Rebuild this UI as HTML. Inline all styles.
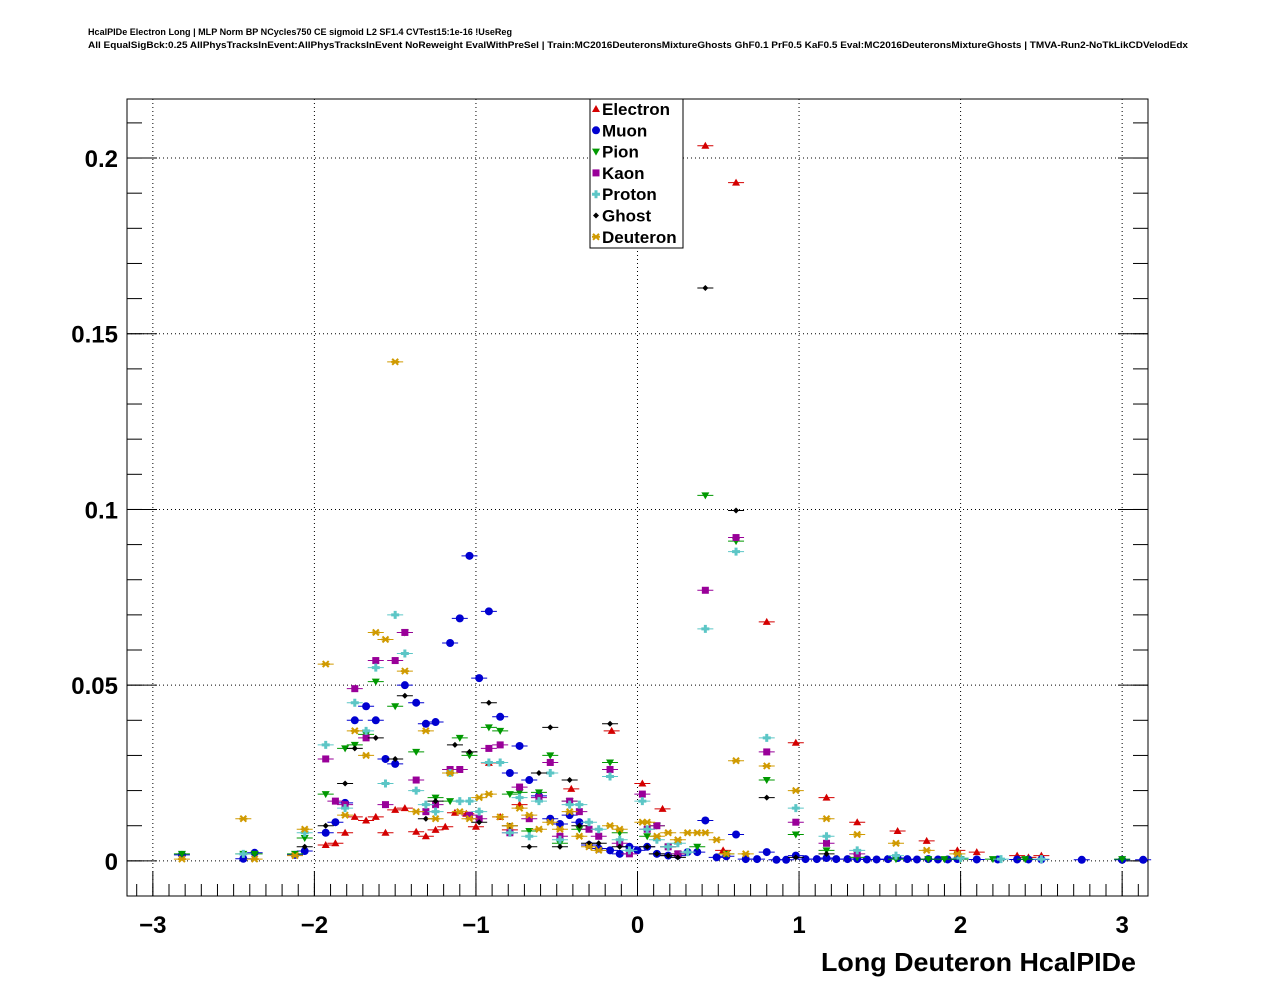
<!DOCTYPE html>
<html><head><meta charset="utf-8"><style>
body{margin:0;background:#fff;}
svg{display:block;font-family:"Liberation Sans",sans-serif;}
</style></head><body>
<svg id="chart" width="1276" height="996">
<text x="88" y="35" font-size="9" font-weight="bold" textLength="424" lengthAdjust="spacingAndGlyphs">HcalPIDe Electron Long | MLP Norm BP NCycles750 CE sigmoid L2 SF1.4 CVTest15:1e-16 !UseReg</text>
<text x="88" y="48" font-size="9" font-weight="bold" textLength="1100" lengthAdjust="spacingAndGlyphs">All EqualSigBck:0.25 AllPhysTracksInEvent:AllPhysTracksInEvent NoReweight EvalWithPreSel | Train:MC2016DeuteronsMixtureGhosts GhF0.1 PrF0.5 KaF0.5 Eval:MC2016DeuteronsMixtureGhosts | TMVA-Run2-NoTkLikCDVelodEdx</text>
<rect x="127" y="99" width="1021" height="797" fill="none" stroke="#000" stroke-width="1"/>
<g id="grid"></g><g id="axes"></g><g id="marks"></g>
<text x="1136" y="971" font-size="26" font-weight="bold" text-anchor="end" textLength="315" lengthAdjust="spacingAndGlyphs">Long Deuteron HcalPIDe</text>
<g id="legend">
<rect x="590" y="99" width="93" height="149" fill="#fff" stroke="#000" stroke-width="1"/>
</g>
</svg>
<script>
const seriesNames=["Electron","Muon","Pion","Kaon","Proton","Ghost","Deuteron"];
const seriesColors=["#d40000","#0000d0","#009900","#990099","#5cc6c6","#000000","#d09a00"];
const xTicks=[-3,-2,-1,0,1,2,3];
const xTickLabels=["\u22123","\u22122","\u22121","0","1","2","3"];
const yTicks=[0,0.05,0.1,0.15,0.2];
const yTickLabels=["0","0.05","0.1","0.15","0.2"];
const electronX=[-1.93,-1.87,-1.81,-1.75,-1.68,-1.62,-1.56,-1.50,-1.44,-1.37,-1.31,-1.25,-1.19,-1.13,-1.06,-1.00,-0.92,-0.85,-0.79,-0.73,-0.41,-0.16,0.03,0.155,0.42,0.53,0.61,0.80,0.98,1.17,1.36,1.61,1.79,1.98,2.1,2.35,2.42,2.5];
const electronY=[0.0045,0.005,0.008,0.0125,0.0115,0.0125,0.008,0.0145,0.015,0.0083,0.007,0.0088,0.0097,0.0137,0.0134,0.0097,0.0279,0.0125,0.0088,0.016,0.0205,0.037,0.022,0.0148,0.2035,0.003,0.193,0.068,0.0336,0.018,0.011,0.0085,0.0057,0.003,0.0025,0.0015,0.001,0.0015];
const muonX=[-2.82,-2.44,-2.37,-2.12,-2.06,-1.93,-1.87,-1.81,-1.75,-1.68,-1.62,-1.56,-1.50,-1.44,-1.37,-1.31,-1.25,-1.16,-1.10,-1.04,-0.98,-0.92,-0.85,-0.79,-0.73,-0.67,-0.61,-0.54,-0.48,-0.42,-0.36,-0.30,-0.24,-0.17,-0.11,-0.05,0.0,0.06,0.12,0.19,0.25,0.31,0.37,0.42,0.49,0.55,0.61,0.67,0.74,0.80,0.86,0.92,0.98,1.04,1.11,1.17,1.23,1.3,1.36,1.42,1.48,1.55,1.61,1.67,1.73,1.8,1.86,1.92,1.98,2.1,2.23,2.35,2.42,2.5,2.75,3.0,3.13];
const muonY=[0.0017,0.0006,0.0023,0.0017,0.0028,0.008,0.011,0.0165,0.040,0.044,0.040,0.029,0.0276,0.050,0.045,0.039,0.0395,0.062,0.069,0.0868,0.052,0.071,0.041,0.025,0.0327,0.023,0.0185,0.012,0.0105,0.013,0.011,0.0045,0.0035,0.003,0.002,0.004,0.003,0.004,0.002,0.0015,0.0015,0.0025,0.0025,0.0115,0.001,0.0013,0.0075,0.0005,0.0005,0.0025,0.0003,0.0003,0.0015,0.0005,0.0005,0.0008,0.0005,0.0005,0.0005,0.0004,0.0004,0.0005,0.0008,0.0005,0.0004,0.0005,0.0004,0.0004,0.0005,0.0004,0.0004,0.0004,0.0004,0.0004,0.0003,0.0003,0.0003];
const pionX=[-2.82,-2.44,-2.37,-2.12,-2.06,-1.93,-1.81,-1.75,-1.68,-1.62,-1.50,-1.44,-1.37,-1.25,-1.16,-1.10,-1.04,-0.92,-0.85,-0.79,-0.73,-0.67,-0.61,-0.54,-0.48,-0.42,-0.36,-0.17,-0.11,0.06,0.12,0.19,0.25,0.37,0.42,0.55,0.61,0.80,0.98,1.17,1.36,1.6,1.8,1.9,2.0,2.2,2.4,3.0];
const pionY=[0.002,0.002,0.002,0.002,0.0065,0.019,0.032,0.033,0.036,0.051,0.044,0.065,0.031,0.018,0.017,0.035,0.030,0.038,0.037,0.019,0.0195,0.0085,0.0195,0.030,0.005,0.017,0.009,0.028,0.008,0.007,0.010,0.004,0.002,0.004,0.104,0.002,0.091,0.023,0.0075,0.003,0.001,0.0005,0.0005,0.0005,0.0005,0.0005,0.0005,0.0005];
const kaonX=[-1.93,-1.87,-1.81,-1.75,-1.68,-1.62,-1.56,-1.50,-1.44,-1.37,-1.31,-1.25,-1.16,-1.10,-1.04,-0.98,-0.92,-0.85,-0.79,-0.73,-0.67,-0.61,-0.54,-0.48,-0.42,-0.36,-0.30,-0.24,-0.17,-0.11,-0.05,0.03,0.06,0.12,0.19,0.25,0.42,0.61,0.80,0.98,1.17,1.36];
const kaonY=[0.029,0.017,0.016,0.049,0.035,0.057,0.016,0.057,0.065,0.023,0.014,0.016,0.026,0.026,0.013,0.012,0.032,0.033,0.008,0.021,0.012,0.018,0.028,0.007,0.017,0.014,0.009,0.007,0.026,0.005,0.002,0.019,0.009,0.010,0.004,0.002,0.077,0.092,0.031,0.011,0.005,0.002];
const protonX=[-2.44,-2.06,-1.93,-1.81,-1.75,-1.68,-1.62,-1.56,-1.50,-1.44,-1.37,-1.31,-1.25,-1.16,-1.10,-1.04,-0.98,-0.92,-0.85,-0.79,-0.73,-0.67,-0.61,-0.54,-0.48,-0.42,-0.36,-0.30,-0.24,-0.17,-0.11,-0.05,0.03,0.06,0.12,0.19,0.25,0.31,0.42,0.61,0.80,0.98,1.17,1.36,1.6,2.0,2.25,2.5];
const protonY=[0.002,0.008,0.033,0.015,0.045,0.037,0.055,0.022,0.070,0.059,0.020,0.016,0.014,0.025,0.017,0.017,0.014,0.028,0.028,0.008,0.018,0.007,0.017,0.025,0.006,0.016,0.016,0.011,0.009,0.024,0.006,0.003,0.017,0.009,0.006,0.004,0.005,0.0025,0.066,0.088,0.035,0.015,0.007,0.003,0.0015,0.0008,0.0005,0.0005];
const ghostX=[-2.06,-1.93,-1.81,-1.75,-1.62,-1.50,-1.44,-1.31,-1.25,-1.13,-1.04,-0.98,-0.92,-0.79,-0.67,-0.61,-0.54,-0.48,-0.42,-0.36,-0.30,-0.24,-0.17,-0.11,0.06,0.12,0.19,0.25,0.42,0.61,0.80,0.98,1.17];
const ghostY=[0.004,0.010,0.022,0.032,0.035,0.029,0.047,0.012,0.017,0.033,0.031,0.011,0.045,0.010,0.004,0.025,0.038,0.004,0.023,0.010,0.005,0.005,0.039,0.004,0.004,0.002,0.0015,0.001,0.163,0.0997,0.018,0.001,0.002];
const deuteronX=[-2.82,-2.44,-2.37,-2.12,-2.06,-1.93,-1.81,-1.75,-1.68,-1.62,-1.56,-1.50,-1.44,-1.37,-1.31,-1.25,-1.16,-1.10,-1.04,-0.98,-0.92,-0.85,-0.79,-0.73,-0.67,-0.61,-0.54,-0.48,-0.42,-0.36,-0.30,-0.24,-0.17,-0.11,0.03,0.06,0.12,0.19,0.25,0.31,0.37,0.42,0.49,0.55,0.61,0.67,0.80,0.98,1.17,1.36,1.6,1.79,1.98];
const deuteronY=[0.0005,0.012,0.0005,0.0015,0.009,0.056,0.013,0.037,0.030,0.065,0.063,0.142,0.054,0.014,0.037,0.012,0.025,0.014,0.012,0.018,0.019,0.0125,0.010,0.015,0.013,0.009,0.011,0.009,0.014,0.007,0.004,0.003,0.010,0.009,0.011,0.011,0.007,0.008,0.006,0.008,0.008,0.008,0.006,0.002,0.0285,0.002,0.027,0.020,0.012,0.0075,0.005,0.003,0.002];
const allX=[electronX,muonX,pionX,kaonX,protonX,ghostX,deuteronX];
const allY=[electronY,muonY,pionY,kaonY,protonY,ghostY,deuteronY];

const NS="http://www.w3.org/2000/svg";
const L=127,R=1148,T=99,B=896,xmin=-3.16,xmax=3.16,ymin=-0.01,ymax=0.2168;
function sx(v){return L+(v-xmin)/(xmax-xmin)*(R-L);}
function sy(v){return B-(v-ymin)/(ymax-ymin)*(B-T);}
function mk(tag,attrs,parent){const e=document.createElementNS(NS,tag);for(const k in attrs)e.setAttribute(k,attrs[k]);parent.appendChild(e);return e;}
const grid=document.getElementById('grid'),axes=document.getElementById('axes'),marks=document.getElementById('marks'),legend=document.getElementById('legend');
xTicks.forEach((t,i)=>{const x=sx(t);
 const g=mk('line',{x1:x,x2:x,y1:T,y2:B,stroke:'#000','stroke-dasharray':'1,3','stroke-width':1},grid);
 
 
 mk('line',{x1:x,x2:x,y1:B,y2:B-25,stroke:'#000'},axes);
 const tx=mk('text',{x:x,y:933,'font-size':24,'font-weight':'bold','text-anchor':'middle'},axes);
 tx.textContent=xTickLabels[i];
 
 
});
for(let v=-3.1;v<=3.15;v+=0.1){const x=sx(v);mk('line',{x1:x,x2:x,y1:B,y2:B-12,stroke:'#000'},axes);}
yTicks.forEach((t,i)=>{const y=sy(t);
 const g=mk('line',{x1:L,x2:R,y1:y,y2:y,stroke:'#000','stroke-dasharray':'1,3','stroke-width':1},grid);
 
 
 mk('line',{x1:L,x2:L+30,y1:y,y2:y,stroke:'#000'},axes);
 mk('line',{x1:R,x2:R-30,y1:y,y2:y,stroke:'#000'},axes);
 const tx=mk('text',{x:118,y:y+9,'font-size':24,'font-weight':'bold','text-anchor':'end'},axes);
 tx.textContent=yTickLabels[i];
 
 
});
for(let v=-0.01;v<=0.215;v+=0.01){const y=sy(v);mk('line',{x1:L,x2:L+15,y1:y,y2:y,stroke:'#000'},axes);mk('line',{x1:R,x2:R-15,y1:y,y2:y,stroke:'#000'},axes);}
function marker(k,x,y,c,parent){
 if(k===0)return mk('polygon',{points:`${x},${y-4} ${x-4},${y+3} ${x+4},${y+3}`,fill:c},parent);
 if(k===1)return mk('circle',{cx:x,cy:y,r:4,fill:c},parent);
 if(k===2)return mk('polygon',{points:`${x-4},${y-3} ${x+4},${y-3} ${x},${y+4}`,fill:c},parent);
 if(k===3)return mk('rect',{x:x-3.5,y:y-3.5,width:7,height:7,fill:c},parent);
 if(k===4)return mk('path',{d:`M${x-4} ${y}H${x+4}M${x} ${y-4}V${y+4}`,stroke:c,'stroke-width':3},parent);
 if(k===5)return mk('polygon',{points:`${x},${y-3} ${x+3},${y} ${x},${y+3} ${x-3},${y}`,fill:c},parent);
 return mk('path',{d:`M${x-4} ${y}H${x+4}M${x-3} ${y-3}L${x+3} ${y+3}M${x-3} ${y+3}L${x+3} ${y-3}`,stroke:c,'stroke-width':2},parent);
}
allX.forEach((xs,s)=>{const c=seriesColors[s];
 const g=mk('g',{},marks);
 
 
 xs.forEach((xv,i)=>{const x=sx(xv),y=sy(allY[s][i]);
  mk('line',{x1:x-8,x2:x+8,y1:y,y2:y,stroke:c,'stroke-width':1},g);
  const m=marker(s,x,y,c,g);
  
  
 });
});
seriesNames.forEach((n,i)=>{const y=109+i*21.3;
 const e=mk('g',{},legend);
 
 
 marker(i,596,y,seriesColors[i],e);
 const t=mk('text',{x:602,y:y+6,'font-size':17,'font-weight':'bold'},e);t.textContent=n;
});
</script>
</body></html>
